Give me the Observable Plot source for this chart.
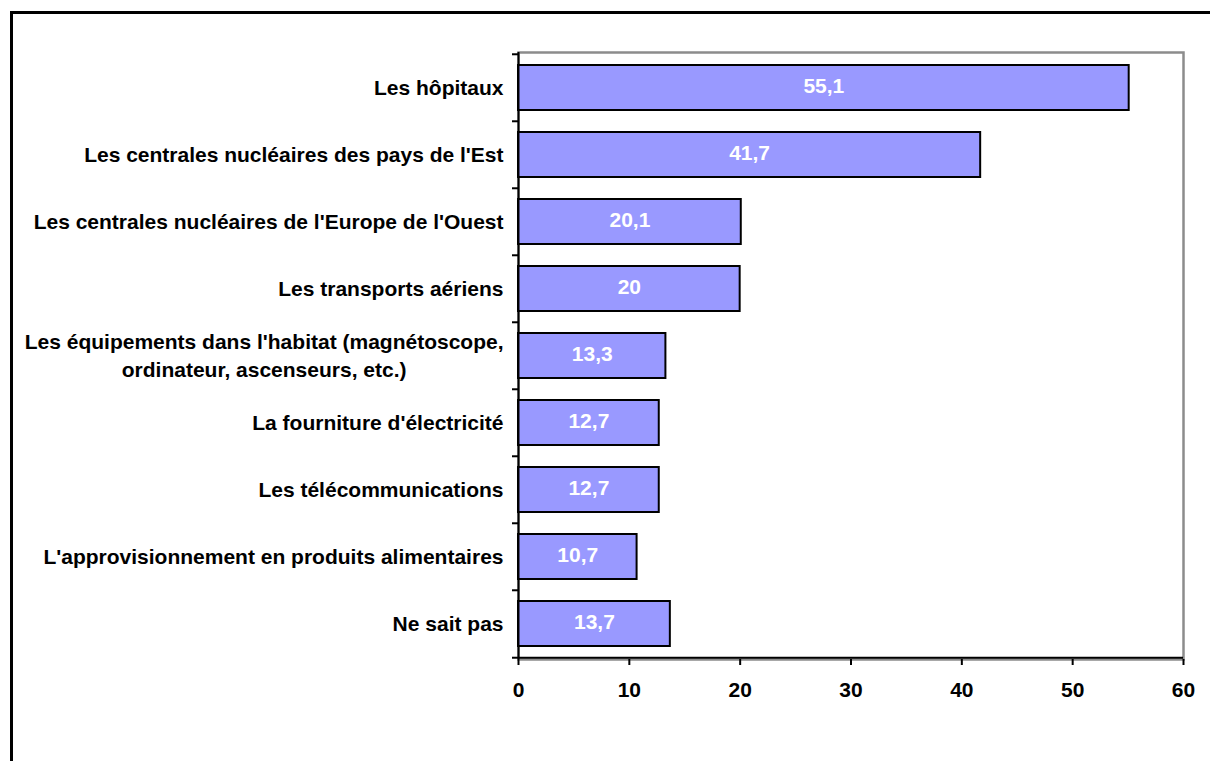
<!DOCTYPE html>
<html>
<head>
<meta charset="utf-8">
<script src="https://cdn.jsdelivr.net/npm/d3@7"></script>
<script src="https://cdn.jsdelivr.net/npm/@observablehq/plot@0.6"></script>
<style>
  html, body { margin: 0; padding: 0; background: #fff; overflow: hidden; }
  #wrap { position: relative; width: 1210px; height: 761px; }
  #outer { position: absolute; left: 10px; top: 11px; width: 1300px; height: 900px;
           border-left: 3px solid #000; border-top: 3px solid #000; pointer-events: none; }
  #chart { position: absolute; left: 0; top: 0; }
</style>
</head>
<body>
<div id="wrap"><div id="chart"></div><div id="outer"></div></div>
<script>
const categories = [
  "Les hôpitaux",
  "Les centrales nucléaires des pays de l'Est",
  "Les centrales nucléaires de l'Europe de l'Ouest",
  "Les transports aériens",
  "Les équipements dans l'habitat (magnétoscope,\nordinateur, ascenseurs, etc.)",
  "La fourniture d'électricité",
  "Les télécommunications",
  "L'approvisionnement en produits alimentaires",
  "Ne sait pas"
];
const values = [55.1, 41.7, 20.1, 20, 13.3, 12.7, 12.7, 10.7, 13.7];
const xTicks = [0, 10, 20, 30, 40, 50, 60];

const data = categories.map((c, i) => ({category: c, value: values[i]}));
const fmt = v => String(v).replace(".", ",");

const W = 1210, H = 761, mT = 52, mB = 102, mL = 518, mR = 27;
const step = (H - mT - mB) / categories.length;
const FS = 21;

const chart = Plot.plot({
  width: W, height: H,
  marginTop: mT, marginBottom: mB, marginLeft: mL, marginRight: mR,
  style: {fontFamily: "'Liberation Sans', Arial, sans-serif", fontSize: FS + "px", fontWeight: "bold", color: "#000", background: "#fff"},
  x: {domain: [0, 60], ticks: xTicks},
  y: {domain: categories, paddingInner: 1/3, paddingOuter: 1/6},
  marks: [
    Plot.frame({stroke: "#8c8c8c", strokeWidth: 2.5}),
    Plot.barX(data, {x: "value", y: "category", fill: "#9999ff", stroke: "#000", strokeWidth: 2}),
    Plot.text(data, {x: d => d.value / 2, y: "category", text: d => fmt(d.value), fill: "#fff", fontSize: FS, fontWeight: "bold", dy: -2}),
    Plot.ruleX([0], {stroke: "#000", strokeWidth: 2}),
    Plot.ruleY([categories[categories.length - 1]], {y: d => d, dy: step / 2, x1: 0, x2: 60, stroke: "#000", strokeWidth: 2}),
    Plot.ruleY(categories, {y: d => d, dy: -step / 2, x1: 0, x2: 0, insetLeft: -6, stroke: "#000", strokeWidth: 2}),
    Plot.ruleY([categories[categories.length - 1]], {y: d => d, dy: step / 2, x1: 0, x2: 0, insetLeft: -6, stroke: "#000", strokeWidth: 2}),
    Plot.axisX({ticks: xTicks, tickSize: 6, tickPadding: 17, strokeWidth: 2, stroke: "#000", fontSize: FS, fontWeight: "bold", label: null}),
    Plot.axisY({tickSize: 0, tickPadding: 15, fontSize: FS, fontWeight: "bold", lineHeight: 1.36, dy: -2, label: null})
  ]
});

document.getElementById("chart").append(chart);

// Center the lines of the wrapped category label on each other (like the original)
chart.querySelectorAll('g[aria-label="y-axis tick label"] text').forEach(t => {
  const spans = t.querySelectorAll("tspan");
  if (spans.length > 1) {
    let w = 0;
    spans.forEach(s => { w = Math.max(w, s.getComputedTextLength()); });
    t.setAttribute("text-anchor", "middle");
    spans.forEach(s => s.setAttribute("x", -w / 2));
  }
});
</script>
</body>
</html>
